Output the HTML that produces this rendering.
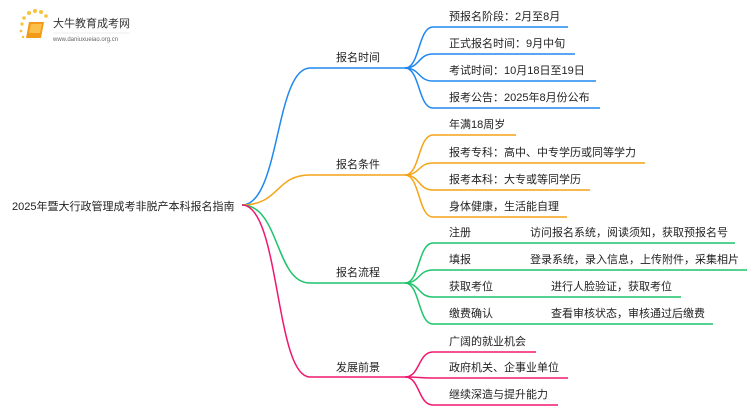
<!DOCTYPE html>
<html><head><meta charset="utf-8"><style>
html,body{margin:0;padding:0;background:#fff;}
svg{display:block;}
text{font-family:"Liberation Sans","Noto Sans CJK SC",sans-serif;font-size:11px;fill:#222;}
</style></head><body>
<svg width="750" height="410" viewBox="0 0 750 410" xmlns="http://www.w3.org/2000/svg">
<!-- logo -->
<g>
<circle cx="22" cy="24" r="1.6" fill="#f7c23a"/><circle cx="24" cy="18" r="1.8" fill="#f7c23a"/><circle cx="29" cy="13" r="2" fill="#f7c23a"/><circle cx="35" cy="11" r="2" fill="#f7c23a"/><circle cx="41" cy="12" r="2" fill="#f7c23a"/><circle cx="46" cy="16" r="1.8" fill="#f7c23a"/><circle cx="21" cy="31" r="1.4" fill="#f7c23a"/><circle cx="23" cy="37" r="1.2" fill="#f7c23a"/>
<path d="M29 22 L44 22 L41 38 L26 38 Z" fill="#f29a1a"/><path d="M31 24 L42 24 L40 33 L29 33 Z" fill="#fbc04a"/>
<text x="53" y="27" style="font-size:11px;fill:#333">大牛教育成考网</text>
<text x="53" y="41" style="font-size:6px;fill:#666">www.daniuxueiao.org.cn</text>
<line x1="53" y1="33" x2="130" y2="33" stroke="#ddd" stroke-width="0.6"/>
</g>
<text x="12" y="210">2025年暨大行政管理成考非脱产本科报名指南</text>
<g fill="none" stroke-width="1.5">
<!-- blue -->
<g stroke="#1e88f0">
<path d="M242 205 C280 205 275 68 310 68 L405 68"/>
<path d="M405 68 C420 68 418 27 433 27 L568 27"/>
<path d="M405 68 C420 68 418 54 433 54 L575 54"/>
<path d="M405 68 C420 68 418 81 433 81 L596 81"/>
<path d="M405 68 C420 68 418 108 433 108 L600 108"/>
</g>
<g stroke="#f5a416">
<path d="M242 205 C280 205 275 175 310 175 L405 175"/>
<path d="M405 175 C420 175 418 135 433 135 L516 135"/>
<path d="M405 175 C420 175 418 163 433 163 L645 163"/>
<path d="M405 175 C420 175 418 190 433 190 L590 190"/>
<path d="M405 175 C420 175 418 217 433 217 L567 217"/>
</g>
<g stroke="#1fc46b">
<path d="M242 205 C280 205 275 283 310 283 L405 283"/>
<path d="M405 283 C420 283 418 243 433 243 L735 243"/>
<path d="M405 283 C420 283 418 270 433 270 L747 270"/>
<path d="M405 283 C420 283 418 297 433 297 L681 297"/>
<path d="M405 283 C420 283 418 324 433 324 L713 324"/>
</g>
<g stroke="#f0186e">
<path d="M242 205 C280 205 275 377 310 377 L405 377"/>
<path d="M405 377 C420 377 418 352 433 352 L536 352"/>
<path d="M405 377 C420 377 418 378 433 378 L568 378"/>
<path d="M405 377 C420 377 418 405 433 405 L558 405"/>
</g>
</g>
<text x="336" y="61">报名时间</text>
<text x="336" y="168">报名条件</text>
<text x="336" y="276">报名流程</text>
<text x="336" y="371">发展前景</text>
<text x="449" y="20">预报名阶段：2月至8月</text>
<text x="449" y="47">正式报名时间：9月中旬</text>
<text x="449" y="74">考试时间：10月18日至19日</text>
<text x="449" y="101">报考公告：2025年8月份公布</text>
<text x="449" y="128">年满18周岁</text>
<text x="449" y="156">报考专科：高中、中专学历或同等学力</text>
<text x="449" y="183">报考本科：大专或等同学历</text>
<text x="449" y="210">身体健康，生活能自理</text>
<text x="449" y="236">注册</text><text x="530" y="236">访问报名系统，阅读须知，获取预报名号</text>
<text x="449" y="263">填报</text><text x="530" y="263">登录系统，录入信息，上传附件，采集相片</text>
<text x="449" y="290">获取考位</text><text x="551" y="290">进行人脸验证，获取考位</text>
<text x="449" y="317">缴费确认</text><text x="551" y="317">查看审核状态，审核通过后缴费</text>
<text x="449" y="345">广阔的就业机会</text>
<text x="449" y="371">政府机关、企事业单位</text>
<text x="449" y="398">继续深造与提升能力</text>
</svg>
</body></html>
